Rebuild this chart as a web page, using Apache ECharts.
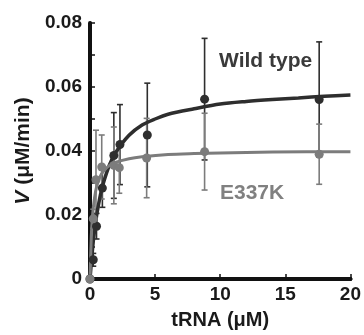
<!DOCTYPE html>
<html>
<head>
<meta charset="utf-8">
<script src="https://cdn.jsdelivr.net/npm/echarts@6/dist/echarts.min.js"></script>
<style>html,body{margin:0;padding:0;background:#fff}#c{width:364px;height:335px}</style>
</head>
<body>
<div id="c"></div>
<script>
// Wild type measured points
var wtX   = [0, 0.25, 0.5, 0.95, 1.83, 2.3, 4.4, 8.8, 17.6];
var wtY   = [0, 0.006, 0.0165, 0.0284, 0.0386, 0.042, 0.045, 0.0562, 0.0561];
var wtErr = [0, 0.002, 0.004, 0.006, 0.0134, 0.0125, 0.0162, 0.019, 0.018];
// E337K measured points
var muX   = [0, 0.25, 0.46, 0.9, 1.83, 2.25, 4.35, 8.8, 17.6];
var muY   = [0, 0.0188, 0.031, 0.035, 0.0355, 0.0348, 0.0378, 0.0398, 0.039];
var muErr = [0, 0.003, 0.0155, 0.010, 0.012, 0.008, 0.0124, 0.012, 0.0094];
// Fitted curves
var wtCurveX = [0, 0.25, 0.5, 0.75, 1, 1.5, 2, 3, 4, 5, 6, 8, 10, 12, 14, 16, 18, 20];
var wtCurveY = [0, 0.0117, 0.0196, 0.0253, 0.0296, 0.0357, 0.0397, 0.0449, 0.0481, 0.0500, 0.0515, 0.0532, 0.0547, 0.0555, 0.0561, 0.0566, 0.0571, 0.0575];
var muCurveX = [0, 0.1, 0.2, 0.35, 0.5, 0.75, 1, 1.5, 2, 3, 4, 6, 8, 10, 14, 20];
var muCurveY = [0, 0.0134, 0.0201, 0.0254, 0.0287, 0.0318, 0.0335, 0.0355, 0.0365, 0.0376, 0.0382, 0.0389, 0.0392, 0.0394, 0.0397, 0.0398];
// Ticks
var xTicks = [0, 5, 10, 15, 20];
var yTicks = [0, 0.02, 0.04, 0.06, 0.08];

var DARK = '#2e2e2e', GREY = '#7c7c7c';
function zip(a, b) { return a.map(function (v, i) { return [v, b[i]]; }); }
function errData(x, y, e) { return x.map(function (v, i) { return [v, y[i] - e[i], y[i] + e[i]]; }); }
function errSeries(data, color) {
  return {
    type: 'custom', data: data, z: 3, silent: true,
    renderItem: function (params, api) {
      var x = api.value(0), lo = api.value(1), hi = api.value(2);
      if (hi - lo <= 0) return null;
      var p1 = api.coord([x, lo]), p2 = api.coord([x, hi]);
      var w = 3;
      var st = { stroke: color, lineWidth: 1.6 };
      return { type: 'group', children: [
        { type: 'line', shape: { x1: p1[0], y1: p1[1], x2: p2[0], y2: p2[1] }, style: st },
        { type: 'line', shape: { x1: p1[0] - w, y1: p1[1], x2: p1[0] + w, y2: p1[1] }, style: st },
        { type: 'line', shape: { x1: p2[0] - w, y1: p2[1], x2: p2[0] + w, y2: p2[1] }, style: st }
      ]};
    }
  };
}
var FONT = '"Liberation Sans", Arial, sans-serif';
var chart = echarts.init(document.getElementById('c'), null, { renderer: 'canvas' });
var axLine = { show: true, lineStyle: { color: '#111', width: 4 } };
chart.setOption({
  animation: false,
  grid: { left: 90, right: 12, top: 23, bottom: 50 },
  xAxis: [{
    type: 'value', min: xTicks[0], max: xTicks[xTicks.length - 1], interval: 5,
    axisLine: axLine, splitLine: { show: false },
    axisTick: { show: true, inside: true, length: 5, lineStyle: { color: '#111', width: 1.5 } },
    axisLabel: { color: '#1a1a1a', fontSize: 19, fontWeight: 'bold', fontFamily: FONT, margin: 6 },
    name: 'tRNA (μM)', nameLocation: 'middle', nameGap: 31,
    nameTextStyle: { color: '#1a1a1a', fontSize: 20, fontWeight: 'bold', fontFamily: FONT }
  }, {
    type: 'value', position: 'top', min: 0, max: 20,
    axisLine: axLine, axisTick: { show: false }, axisLabel: { show: false }, splitLine: { show: false }
  }],
  yAxis: [{
    type: 'value', min: yTicks[0], max: yTicks[yTicks.length - 1], interval: 0.02,
    axisLine: axLine, splitLine: { show: false },
    axisTick: { show: true, inside: true, length: 5, lineStyle: { color: '#111', width: 1.5 } },
    minorTick: { show: true, splitNumber: 2, length: 5, lineStyle: { color: '#111', width: 1.5 } },
    axisLabel: { color: '#1a1a1a', fontSize: 19, fontWeight: 'bold', fontFamily: FONT, margin: 8,
      formatter: function (v) { return v === 0 ? '0' : v.toFixed(2); } },
    name: '{i|V} (μM/min)', nameLocation: 'middle', nameGap: 54,
    nameTextStyle: { color: '#1a1a1a', fontSize: 21, fontWeight: 'bold', fontFamily: FONT,
      rich: { i: { fontStyle: 'italic', fontSize: 21, fontWeight: 'bold', fontFamily: FONT, color: '#1a1a1a' } } }
  }, {
    type: 'value', position: 'right', min: 0, max: 0.08,
    axisLine: { show: true, lineStyle: { color: '#111', width: 3 } },
    axisTick: { show: false }, axisLabel: { show: false }, splitLine: { show: false }
  }],
  series: [
    errSeries(errData(wtX, wtY, wtErr), DARK),
    { type: 'line', data: zip(wtCurveX, wtCurveY), smooth: 0.3, symbol: 'none', z: 4,
      lineStyle: { color: DARK, width: 3.5 } },
    { type: 'scatter', data: zip(wtX, wtY), symbolSize: 9, z: 5, itemStyle: { color: DARK, opacity: 1 } },
    errSeries(errData(muX, muY, muErr), GREY),
    { type: 'line', data: zip(muCurveX, muCurveY), smooth: 0.3, symbol: 'none', z: 4,
      lineStyle: { color: GREY, width: 3 } },
    { type: 'scatter', data: zip(muX, muY), symbolSize: 9, z: 5, itemStyle: { color: GREY, opacity: 1 } }
  ],
  graphic: [
    { type: 'text', left: 219, top: 51, style: { text: 'Wild type', fill: '#3a3a3a', font: 'bold 21px ' + FONT } },
    { type: 'text', left: 220, top: 183, style: { text: 'E337K', fill: '#808080', font: 'bold 21px ' + FONT } }
  ]
});
</script>
</body>
</html>
